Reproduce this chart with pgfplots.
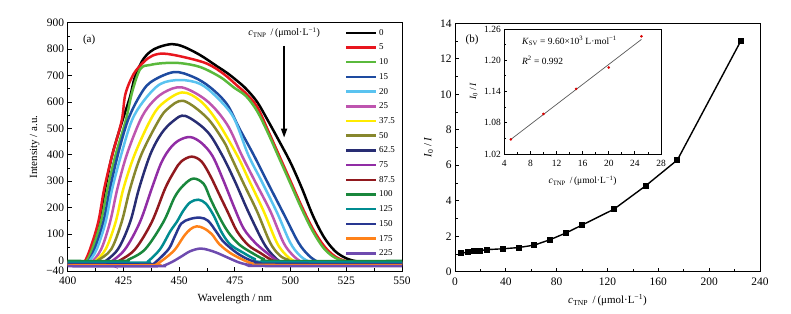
\documentclass[border=0pt]{standalone}
\usepackage{fontspec}
\setmainfont{Liberation Serif}
\usepackage{pgfplots}
\pgfplotsset{compat=1.18}
\usetikzlibrary{arrows.meta}
\definecolor{c0}{RGB}{0,0,0}
\definecolor{c5}{RGB}{232,22,30}
\definecolor{c10}{RGB}{90,185,60}
\definecolor{c15}{RGB}{30,75,160}
\definecolor{c20}{RGB}{90,195,240}
\definecolor{c25}{RGB}{190,85,175}
\definecolor{c37}{RGB}{255,235,0}
\definecolor{c50}{RGB}{135,135,45}
\definecolor{c62}{RGB}{40,45,115}
\definecolor{c75}{RGB}{145,45,165}
\definecolor{c87}{RGB}{145,25,30}
\definecolor{c100}{RGB}{25,135,60}
\definecolor{c125}{RGB}{0,140,145}
\definecolor{c150}{RGB}{40,55,145}
\definecolor{c175}{RGB}{255,130,25}
\definecolor{c225}{RGB}{110,75,175}
\newcommand{\ctnp}{\textit{c}\textsubscript{TNP}\ \,/\,(μmol·L\textsuperscript{−1})}
\newcommand{\ioi}{\textit{I}\textsubscript{0}\,/\,\textit{I}}
\pgfplotsset{myax/.style={scale only axis, axis line style={line width=0.9bp},
  tick align=inside, xtick pos=left, ytick pos=left,
  major tick length=4bp, minor tick length=2.5bp,
  tick style={black, line width=0.8bp},
  /pgf/number format/assume math mode=true,
  tick label style={font=\fontsize{11.5}{12}\selectfont},
  xticklabel style={yshift=-2.5bp},
  xlabel style={yshift=-2.5bp},
  label style={font=\fontsize{11}{12}\selectfont}},
  sp/.style={line width=2.5bp, smooth, tension=0.55}}
\begin{document}
\begin{tikzpicture}
\path[use as bounding box] (0,0) rectangle (791bp,314bp);
\begin{axis}[myax, at={(67.7bp,43bp)}, anchor=south west, width=334.3bp, height=248.3bp,
  xmin=400, xmax=550, ymin=-40, ymax=900,
  xtick={400,425,...,550}, minor xtick={412.5,437.5,...,537.5},
  ytick={-40,0,100,200,300,400,500,600,700,800,900},
  yticklabels={−40,0,100,200,300,400,500,600,700,800,900},
  minor ytick={50,150,...,850},
  xlabel={Wavelength / nm}, ylabel={Intensity / a.u.},
  legend cell align=left,
  legend style={draw=none, fill=none, at={(0.8205,0.9887)}, anchor=north west,
    font=\fontsize{9}{10}\selectfont, row sep=4.5bp, column sep=1bp,
    nodes={inner sep=0.5bp, text height=7bp, text depth=2.2bp}},
  legend image code/.code={\draw[#1, line width=2.5bp, sharp plot] (0bp,0bp) -- (30bp,0bp);}]
\addplot[c0, sp] coordinates {(400,-8)(406,-8)(407.8,-5)(410.5,42)(414,145)(416.8,272)(420,400)(424.5,528)(428,620)(430,690)(433.4,755)(437,790)(441,808)(446.8,819)(452,809)(459.5,777)(467,735)(471.5,710)(476,680)(480,650)(485,600)(490,527)(495,450)(500,370)(505,275)(510,170)(515,88)(520,35)(525,8)(530,-4)(535,-7)(550,-8)};
\addlegendentry{0}
\addplot[c5, sp] coordinates {(400,-10)(406,-10)(407.5,-6)(410,42)(413.7,145)(416.4,272)(420,400)(424.2,528)(425.9,630)(429.6,706)(434.1,751)(438,775)(443.1,783)(452,770)(462.5,745)(470,706)(476,662)(480,632)(485,582)(490,490)(495,395)(500,300)(505,205)(510,120)(515,55)(520,15)(525,-3)(530,-9)(550,-10)};
\addlegendentry{5}
\addplot[c10, sp] coordinates {(400,-6)(407,-6)(408.5,-2)(411,42)(414.9,145)(417.9,272)(421.5,400)(426,528)(429,640)(432.6,725)(437,740)(443,747)(450.5,747)(459.5,732)(468.5,694)(474.5,655)(480,622)(485,565)(490,480)(495,385)(500,290)(505,195)(510,110)(515,45)(520,10)(525,-4)(530,-6)(550,-6)};
\addlegendentry{10}
\addplot[c15, sp] coordinates {(400,-12)(407.5,-12)(409,-8)(412,42)(416,145)(419,272)(422.5,400)(426.9,528)(431.9,617)(437.1,674)(447.6,713)(456.5,694)(464,655)(471.5,591)(477,500)(483.4,400)(490,290)(497,175)(503.5,68)(508,20)(512,-4)(516,-11)(550,-12)};
\addlegendentry{15}
\addplot[c20, sp] coordinates {(400,-8)(408,-8)(409.5,-4)(413,42)(417,145)(420,272)(424,400)(428.7,528)(434.1,604)(441.6,668)(450.6,683)(459.5,668)(467,617)(474.5,540)(481,400)(487,300)(494,180)(499.8,68)(504,20)(508,-3)(512,-7)(550,-8)};
\addlegendentry{20}
\addplot[c25, sp] coordinates {(400,-14)(409,-14)(410.5,-10)(415,42)(419,145)(422.3,272)(426.5,400)(432.4,528)(437,590)(443,635)(451.3,655)(462.5,604)(471.5,515)(478,400)(484,300)(491,185)(496.8,68)(501,20)(505,-6)(509,-13)(550,-14)};
\addlegendentry{25}
\addplot[c37, sp] coordinates {(400,-10)(410.5,-10)(412,-6)(417,42)(421.5,145)(425,272)(430,400)(436.9,528)(442,590)(451.3,636)(459.5,604)(467,528)(475.9,400)(481,310)(488,185)(493.8,68)(498,20)(502,-4)(506,-9)(550,-10)};
\addlegendentry{37.5}
\addplot[c50, sp] coordinates {(400,-4)(412,-4)(413.5,0)(419.5,42)(424.2,145)(428,272)(433,400)(440.7,528)(445,575)(452,604)(462.5,540)(470,451)(472.9,400)(479,290)(485,185)(490.8,68)(495,20)(499,2)(503,-3)(550,-4)};
\addlegendentry{50}
\addplot[c62, sp] coordinates {(400,-16)(414,-16)(415.5,-12)(422.5,42)(428,145)(432,272)(437,400)(442,480)(447.4,528)(452.8,547)(462.5,489)(469.2,400)(475,300)(481,185)(487.8,68)(492,20)(496,-8)(500,-15)(550,-16)};
\addlegendentry{62.5}
\addplot[c75, sp] coordinates {(400,-12)(417.5,-12)(419,-8)(425.7,42)(432.4,145)(437.7,272)(442,370)(446,425)(450,455)(455,467)(460,445)(465,395)(470,300)(475,195)(479,120)(484,68)(489.3,29)(495,-5)(500,-11)(550,-12)};
\addlegendentry{75}
\addplot[c87, sp] coordinates {(400,-6)(421.5,-6)(423,-2)(430.2,42)(437.7,145)(443.7,272)(448,340)(451,375)(455.6,393)(460,375)(464,320)(468,250)(472,180)(476,110)(481,58)(486.3,29)(492,0)(497,-5)(550,-6)};
\addlegendentry{87.5}
\addplot[c100, sp] coordinates {(400,-2)(425.5,-2)(427,2)(434.7,42)(442.9,145)(448,240)(452,285)(456.4,310)(461,290)(464,234)(468,165)(472.1,106)(477,60)(482.6,29)(488,5)(493,-2)(550,-2)};
\addlegendentry{100}
\addplot[c125, sp] coordinates {(400,-8)(434.5,-8)(436,-4)(441.4,42)(446,110)(448.9,145)(452,190)(455,220)(458.6,230)(462,215)(465.5,170)(469.1,106)(473,60)(478.8,29)(484,5)(489,-6)(550,-8)};
\addlegendentry{125}
\addplot[c150, sp] coordinates {(400,-14)(437.5,-14)(439,-10)(445.2,42)(448,90)(451,140)(455,157)(459.4,162)(463,150)(466.9,106)(470,70)(475.8,29)(481,4)(486,-10)(490,-13)(550,-14)};
\addlegendentry{150}
\addplot[c175, sp] coordinates {(400,-18)(438.5,-18)(440,-14)(444,10)(448.2,42)(452,90)(455,118)(457.9,129)(461,122)(464.6,100)(468,62)(472.8,29)(478,5)(483,-12)(488,-17)(550,-18)};
\addlegendentry{175}
\addplot[c225, sp] coordinates {(400,-22)(441,-22)(443,-20)(447,-5)(451,15)(455,35)(459.4,45)(463,40)(466.9,29)(472,10)(477,-8)(482,-18)(487,-21)(550,-22)};
\addlegendentry{225}
\draw[line width=1.6bp, -{Triangle[length=9bp,width=6bp]}] (axis cs:497.1,812) -- (axis cs:497.1,465);
\node[font=\fontsize{10}{11}\selectfont] at (axis cs:497.1,862) {\ctnp};
\node[font=\fontsize{11}{12}\selectfont] at (axis cs:409.6,834) {(a)};
\end{axis}
\begin{axis}[myax, at={(455bp,42.3bp)}, anchor=south west, width=305bp, height=248.4bp,
  xmin=0, xmax=240, ymin=0, ymax=14,
  xtick={0,40,...,240}, minor xtick={20,60,...,220},
  ytick={0,2,...,14}, minor ytick={1,3,...,13},
  xlabel={\ctnp}, ylabel={\ioi}]
\addplot[black, line width=1.4bp, mark=square*, mark size=2.3bp] coordinates {(5,1.048)(10,1.097)(15,1.145)(20,1.186)(25,1.245)(37.5,1.29)(50,1.36)(62.5,1.50)(75,1.81)(87.5,2.19)(100,2.63)(125,3.52)(150,4.84)(175,6.30)(225,13.02)};
\node[font=\fontsize{11}{12}\selectfont] at (axis cs:13.4,13.06) {(b)};
\end{axis}
\begin{axis}[myax, at={(504.3bp,160bp)}, anchor=south west, width=156.7bp, height=125bp,
  xmin=4, xmax=28, ymin=1.02, ymax=1.26,
  axis background/.style={fill=white},
  major tick length=3bp, minor tick length=2bp,
  xtick={4,8,...,28}, minor xtick={6,10,...,26},
  ytick={1.02,1.08,1.14,1.20,1.26}, yticklabels={1.02,1.08,1.14,1.20,1.26},
  minor ytick={1.05,1.11,1.17,1.23},
  tick label style={font=\fontsize{9.5}{10}\selectfont},
  xticklabel style={yshift=0bp},
  xlabel style={yshift=0bp},
  label style={font=\fontsize{9.5}{10}\selectfont},
  xlabel={\ctnp}, ylabel={\ioi}]
\addplot[gray!70!black, line width=0.7bp] coordinates {(5,1.048)(25,1.240)};
\addplot[only marks, mark=*, mark size=1.1bp, red!85!black] coordinates {(5,1.048)(10,1.097)(15,1.145)(20,1.186)(25,1.246)};
\node[anchor=west, font=\fontsize{9.5}{10}\selectfont] at (axis cs:6.2,1.237) {\textit{K}\textsubscript{SV} = 9.60×10\textsuperscript{3} L·mol\textsuperscript{−1}};
\node[anchor=west, font=\fontsize{9.5}{10}\selectfont] at (axis cs:6.2,1.199) {\textit{R}\textsuperscript{2} = 0.992};
\end{axis}
\end{tikzpicture}
\end{document}
